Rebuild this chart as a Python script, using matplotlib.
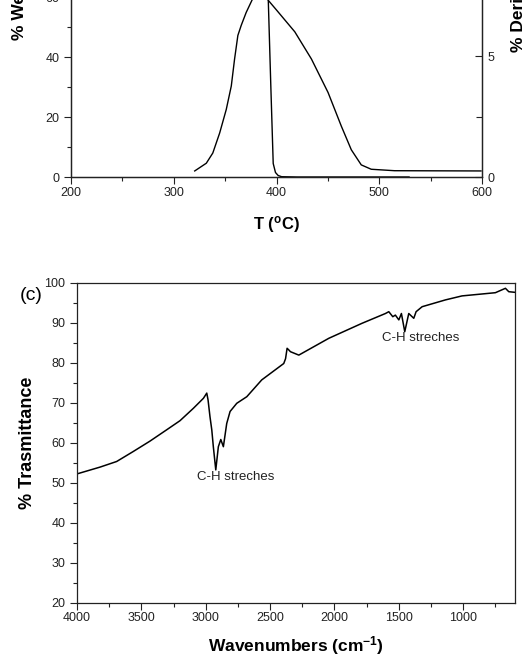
import matplotlib
matplotlib.use("Agg")
import matplotlib.pyplot as plt
from matplotlib.ticker import MultipleLocator

plt.rcParams['font.family'] = ['Liberation Sans', 'DejaVu Sans']
plt.rcParams['mathtext.fontset'] = 'custom'
plt.rcParams['mathtext.rm'] = 'Liberation Sans'
plt.rcParams['mathtext.bf'] = 'Liberation Sans:bold'

# ---- TGA data (panel top, partially visible) ----
tga_T = [200, 300, 350, 375, 385, 390, 392, 394.5, 396.8, 399, 401.6, 405, 420, 529]
tga_weight = [100, 99.5, 98, 94, 85, 70, 59, 30, 4.5, 1.5, 0.5, 0.1, 0.0, 0.0]

dtg_T = [320.4, 331.7, 338, 344.7, 351.1, 356, 359.2, 362.4, 365.7, 370.5, 376.9,
         383, 388, 391, 392, 400, 417.8, 434, 450.2, 463.1, 472.8, 482.5, 492.2, 514.9, 599]
dtg_deriv = [0.25, 0.57, 0.99, 1.82, 2.79, 3.76, 4.875, 5.85, 6.27, 6.8, 7.375,
             7.9, 8.2, 8.2, 7.3, 6.9, 6.0, 4.875, 3.49, 2.1, 1.125, 0.5, 0.32, 0.26, 0.25]

# ---- FTIR data (panel c) ----
ir_wn = [4000, 3821, 3692, 3563, 3433, 3300, 3200, 3096, 3018, 2992, 2982, 2967, 2953,
         2941, 2922, 2902, 2883, 2863, 2837, 2811, 2759, 2681, 2565, 2394, 2380, 2368,
         2355, 2342, 2277, 2044, 1786, 1604, 1578, 1547, 1527, 1500, 1480, 1454, 1423,
         1384, 1366, 1319, 1138, 1009, 750, 672, 646, 600]
ir_T = [52.2, 53.9, 55.3, 57.8, 60.4, 63.3, 65.5, 68.6, 71.1, 72.4, 70.7, 66.5, 63.2,
        59.0, 53.2, 59.0, 60.8, 59.0, 64.8, 67.8, 69.85, 71.5, 75.7, 79.8, 81.0, 83.6,
        83.2, 82.75, 81.9, 86.1, 89.85, 92.3, 92.75, 91.5, 91.9, 90.7, 92.3, 87.75, 92.3,
        91.1, 92.75, 94.0, 95.7, 96.7, 97.5, 98.6, 97.75, 97.6]

W, H = 524, 658
fig = plt.figure(figsize=(W / 100, H / 100), dpi=100)

tick_kw = dict(labelsize=9, colors='#222222', width=0.8)
spine_c = '#222222'

# ---------- top panel ----------
axA = fig.add_axes([71 / W, 1 - 177 / H, 411 / W, 300 / H])
axA.plot(tga_T, tga_weight, color='black', lw=1.0)
axA.set_xlim(200, 600)
axA.set_ylim(0, 100)
axA.xaxis.set_major_locator(MultipleLocator(100))
axA.xaxis.set_minor_locator(MultipleLocator(50))
axA.yaxis.set_major_locator(MultipleLocator(20))
axA.yaxis.set_minor_locator(MultipleLocator(10))
axA.tick_params(axis='both', which='major', direction='out', length=5, **tick_kw)
axA.tick_params(axis='both', which='minor', direction='out', length=3, width=0.8, colors='#222222')
axA.tick_params(axis='x', pad=2)
for s in axA.spines.values():
    s.set_color(spine_c)
    s.set_linewidth(0.9)
axA.spines['top'].set_visible(False)
axA.set_xlabel('T ($\\mathregular{^{o}}$C)', fontsize=12, fontweight='bold', labelpad=11)

axB = axA.twinx()
axB.plot(dtg_T, dtg_deriv, color='black', lw=1.0)
axB.set_ylim(0, 300 / 24.2)
axB.yaxis.set_major_locator(MultipleLocator(5))
axB.yaxis.set_minor_locator(MultipleLocator(2.5))
axB.tick_params(axis='y', which='major', direction='in', length=5, pad=4, **tick_kw)
axB.tick_params(axis='y', which='minor', direction='in', length=4, width=0.8, colors='#222222')
for s in axB.spines.values():
    s.set_color(spine_c)
    s.set_linewidth(0.9)
axB.spines['top'].set_visible(False)

fig.text(20 / W, 1 - 40 / H, '% Weight', rotation=90, ha='center', va='bottom',
         fontsize=12.5, fontweight='bold')
fig.text(518 / W, 1 - 52 / H, '% Derivative Weight', rotation=90, ha='center', va='bottom',
         fontsize=12.5, fontweight='bold')

# ---------- bottom panel (c) ----------
axC = fig.add_axes([77 / W, 1 - 602.7 / H, 437.7 / W, 320 / H])
axC.plot(ir_wn, ir_T, color='black', lw=1.1)
axC.set_xlim(4000, 600)
axC.set_ylim(20, 100)
axC.xaxis.set_major_locator(MultipleLocator(500))
axC.xaxis.set_minor_locator(MultipleLocator(250))
axC.yaxis.set_major_locator(MultipleLocator(10))
axC.yaxis.set_minor_locator(MultipleLocator(5))
axC.tick_params(axis='both', which='major', direction='out', length=5, **tick_kw)
axC.tick_params(axis='both', which='minor', direction='out', length=3, width=0.8, colors='#222222')
axC.tick_params(axis='x', pad=2)
for s in axC.spines.values():
    s.set_color(spine_c)
    s.set_linewidth(0.9)
axC.set_xlabel('Wavenumbers (cm$\\mathregular{^{-1}}$)', fontsize=12.5, fontweight='bold', labelpad=7)
axC.set_ylabel('% Trasmittance', fontsize=13, fontweight='bold', labelpad=6)

axC.text(2770, 51.3, 'C-H streches', fontsize=9.5, ha='center', va='center', color='#222222')
axC.text(1327, 86.2, 'C-H streches', fontsize=9.5, ha='center', va='center', color='#222222')

fig.text(31 / W, 1 - 295 / H, '(c)', fontsize=14, ha='center', va='center')

fig.savefig('out.png', dpi=100)
